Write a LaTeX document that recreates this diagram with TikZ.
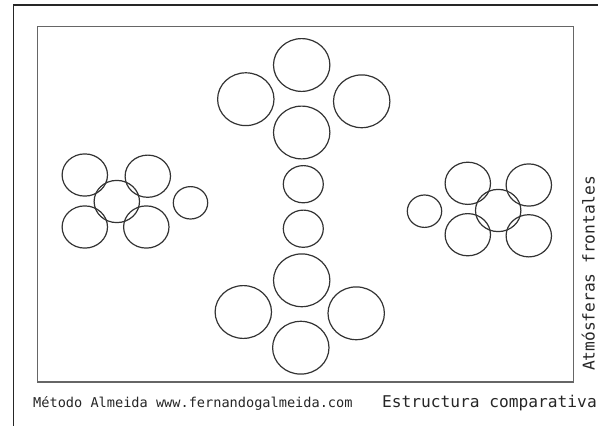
\documentclass[tikz,border=0pt]{standalone}
\usepackage{fontspec}
\usetikzlibrary{shapes.geometric}
\newfontfamily\monofont{DejaVu Sans Mono}

\begin{document}
\begin{tikzpicture}[x=1pt,y=-1pt,
    ring/.style={ellipse,draw=black!80,line width=1.2pt,inner sep=0pt},
    bigring/.style={ring,minimum width=56.4pt,minimum height=52.8pt},
    midring/.style={ring,minimum width=45.4pt,minimum height=42.2pt},
    dotring/.style={ring,minimum width=40pt,minimum height=37.2pt},
    tinyring/.style={ring,minimum width=34.4pt,minimum height=32.4pt}]
  \useasboundingbox (0,0) rectangle (598,426);

  % frames
  \draw[black!85,line width=1.2pt] (13.3,426) -- (13.3,5) -- (598,5);
  \draw[black!60,line width=1.5pt] (37.7,26.7) rectangle (573.7,382);

  % central column
  \node[bigring] (top)    at (301.7,65)    {};
  \node[bigring] (upleft) at (245.8,99.2)  {};
  \node[bigring] (upright) at (361.7,101.3) {};
  \node[bigring] (upmid)  at (301.7,132.5) {};
  \node[dotring] (neckA)  at (303.3,184.2) {};
  \node[dotring] (neckB)  at (303.3,228.7) {};
  \node[bigring] (lowmid) at (301.7,280.3) {};
  \node[bigring] (lowleft) at (243.3,312)  {};
  \node[bigring] (lowright) at (356.2,313.3) {};
  \node[bigring] (bottom) at (300.8,347.7) {};

  % left group
  \node[midring] (lUL) at (84.8,175)    {};
  \node[midring] (lUR) at (147.8,176.2) {};
  \node[midring] (lC)  at (116.8,201.5) {};
  \node[midring] (lLL) at (84.8,227)    {};
  \node[midring] (lLR) at (146.3,227)   {};
  \node[tinyring] (lS) at (190.5,202.8) {};

  % right group
  \node[tinyring] (rS) at (424.5,211.2) {};
  \node[midring] (rUL) at (467.8,183.3) {};
  \node[midring] (rUR) at (528.8,185)   {};
  \node[midring] (rC)  at (498.2,210.5) {};
  \node[midring] (rLL) at (467.8,234.7) {};
  \node[midring] (rLR) at (528.8,235.8) {};

  % texts
  \node[anchor=base west,inner sep=0pt,font=\monofont\fontsize{13.6}{15}\selectfont,text=black!85]
    (credit) at (33,407) {Método Almeida www.fernandogalmeida.com};
  \node[anchor=base west,inner sep=0pt,font=\monofont\fontsize{16.2}{18}\selectfont,text=black!85]
    (title) at (382,407) {Estructura comparativa};
  \node[anchor=base west,inner sep=0pt,rotate=90,font=\monofont\fontsize{16.2}{18}\selectfont,text=black!85]
    (side) at (594.5,371) {Atmósferas frontales};
\end{tikzpicture}
\end{document}
